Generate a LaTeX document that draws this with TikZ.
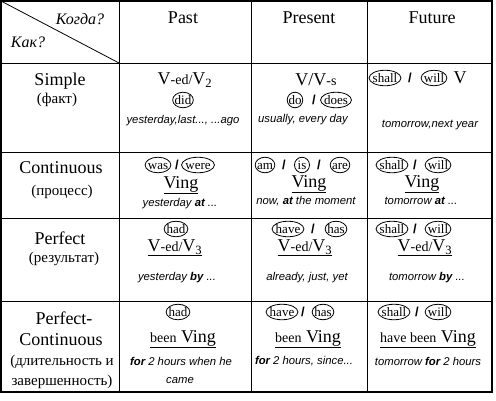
\documentclass[tikz,border=0pt]{standalone}
\usepackage{fontspec}
\setmainfont{Liberation Serif}
\newfontfamily\hintfont{Liberation Sans}
\usetikzlibrary{shapes.geometric}
\newcommand\smalltxt[1]{{\fontsize{14}{16}\selectfont #1}}

\begin{document}
\begin{tikzpicture}[x=1pt, y=-1pt,
		big/.style={font=\fontsize{18}{20}\selectfont},
		note/.style={font=\fontsize{15}{17}\selectfont},
		ask/.style={font=\itshape\fontsize{16}{18}\selectfont},
		hint/.style={font=\hintfont\itshape\fontsize{11.3}{13}\selectfont},
		aux/.style={ellipse, draw, line width=0.8pt, inner xsep=-1pt, inner ysep=0pt, minimum height=15.5pt, minimum width=15pt, text height=9pt, text depth=0.5pt, font=\fontsize{13}{15}\selectfont},
		sep/.style={font=\hintfont\bfseries\fontsize{13}{15}\selectfont}]
		\useasboundingbox (0,0) rectangle (496,400);
		\draw[line width=1.6pt] (1,1) rectangle (492,392);
		\foreach \x in {119,251,367}
			\draw[line width=0.8pt] (\x,1) -- (\x,392);
		\foreach \y in {63,152,218,301}
			\draw[line width=0.8pt] (1,\y) -- (492,\y);
		\draw[line width=0.8pt] (1,1) -- (119,63);
		
		\node[ask] (when) at (80,19) {Когда?};
		\node[ask] (how) at (28,42) {Как?};
		\foreach \x/\name/\txt in {183/past/Past, 309/present/Present, 432/future/Future}
			\node[big] (\name) at (\x,18) {\txt};
		
		\node[big] (simple) at (60,81) {Simple};
		\node[note] (simplenote) at (57,100) {(факт)};
		\node[big] (contin) at (61,168) {Continuous};
		\node[note] (continnote) at (62,192) {(процесс)};
		\node[big] (perf) at (60,238) {Perfect};
		\node[note] (perfnote) at (64,259) {(результат)};
		\node[big] (pcone) at (64,318) {Perfect-};
		\node[big] (pctwo) at (61,340) {Continuous};
		\node[note] (pcnote) at (62,362) {(длительность и};
		\node[note] (pcnotetwo) at (62,382) {завершенность)};
		
		\node[big] (vpast) at (185,80) {V\smalltxt{-ed/}V\textsubscript{2}};
		\node[aux] (did) at (183,100) {did};
		\node[hint] (hpast) at (183,121) {yesterday,last..., ...ago};
		\node[big] (vpres) at (316,80) {V/V\smalltxt{-s}};
		\node[aux] (do) at (295,100) {do};
		\node[sep] (sdo) at (314,100) {/};
		\node[aux] (does) at (336,100) {does};
		\node[hint] (hpres) at (303,120) {usually, every day};
		\node[aux] (shall) at (385,78) {shall};
		\node[sep] (sfut) at (410,78) {/};
		\node[aux] (will) at (434,78) {will};
		\node[big] (vfut) at (460,78) {V};
		\node[hint] (hfut) at (430,125) {tomorrow,next year};
		
		\node[aux] (was) at (158,165) {was};
		\node[sep] (swas) at (177,165) {/};
		\node[aux] (were) at (198,165) {were};
		\node[big] (ingpast) at (181,185) {\underline{Ving}};
		\node[hint] (hcpast) at (180,204) {yesterday \textbf{at} ...};
		\node[aux] (am) at (265,165) {am};
		\node[sep] (sam) at (284,165) {/};
		\node[aux] (is) at (302,165) {is};
		\node[sep] (sis) at (319,165) {/};
		\node[aux] (are) at (340,165) {are};
		\node[big] (ingpres) at (309,184) {\underline{Ving}};
		\node[hint] (hcpres) at (306,201) {now, \textbf{at} the moment};
		\node[aux] (cshall) at (392,165) {shall};
		\node[sep] (scfut) at (415,165) {/};
		\node[aux] (cwill) at (438,165) {will};
		\node[big] (ingfut) at (422,184) {\underline{Ving}};
		\node[hint] (hcfut) at (421,201) {tomorrow \textbf{at} ...};
		
		\node[aux] (had) at (176,229) {had};
		\node[big] (edpast) at (175,248) {\underline{V\smalltxt{-ed/}V\textsubscript{3}}};
		\node[hint] (hppast) at (177,278) {yesterday \textbf{by} ...};
		\node[aux] (have) at (288,229) {have};
		\node[sep] (shave) at (313,229) {/};
		\node[aux] (has) at (336,229) {has};
		\node[big] (edpres) at (305,248) {\underline{V\smalltxt{-ed/}V\textsubscript{3}}};
		\node[hint] (hppres) at (307,278) {already, just, yet};
		\node[aux] (pshall) at (392,229) {shall};
		\node[sep] (spfut) at (415,229) {/};
		\node[aux] (pwill) at (438,229) {will};
		\node[big] (edfut) at (425,248) {\underline{V\smalltxt{-ed/}V\textsubscript{3}}};
		\node[hint] (hpfut) at (427,278) {tomorrow \textbf{by} ...};
		
		\node[aux] (pchad) at (178,312) {had};
		\node[big] (beenpast) at (183,339) {\underline{\smalltxt{been} Ving}};
		\node[hint] (hpcpast) at (181,361) {\textbf{for} 2 hours when he};
		\node[hint] (hpcpasttwo) at (180,381) {came};
		\node[aux] (pchave) at (282,312) {have};
		\node[sep] (spchave) at (303,312) {/};
		\node[aux] (pchas) at (323,312) {has};
		\node[big] (beenpres) at (308,339) {\underline{\smalltxt{been} Ving}};
		\node[hint] (hpcpres) at (304,361) {\textbf{for} 2 hours, since...};
		\node[aux] (pcshall) at (394,312) {shall};
		\node[sep] (spcfut) at (417,312) {/};
		\node[aux] (pcwill) at (438,312) {will};
		\node[big] (beenfut) at (428,339) {\underline{\smalltxt{have been} Ving}};
		\node[hint] (hpcfut) at (428,361) {tomorrow \textbf{for} 2 hours};
	\end{tikzpicture}
\end{document}
